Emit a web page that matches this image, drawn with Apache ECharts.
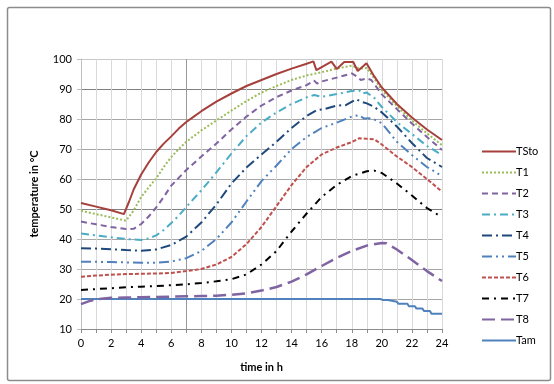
<!DOCTYPE html>
<html>
<head>
<meta charset="utf-8">
<script src="https://cdn.jsdelivr.net/npm/echarts@6/dist/echarts.min.js"></script>
<style>html,body{margin:0;padding:0;background:#fff}#c{width:554px;height:384px}</style>
</head>
<body>
<div id="c"></div>
<script>
var seriesNames = ['TSto','T1','T2','T3','T4','T5','T6','T7','T8','Tam'];
var xTicks = [0,2,4,6,8,10,12,14,16,18,20,22,24];
var yTicks = [10,20,30,40,50,60,70,80,90,100];

var TSto = [[0,52],[1,50.8],[2,49.6],[2.85,48.3],[3.2,52.5],[3.5,56.5],[4,61.5],[4.5,65.5],[5,69],[5.5,71.8],[6,74.2],[6.5,76.8],[7,79],[7.5,80.8],[8,82.6],[9,85.8],[10,88.5],[11,91],[12,93],[13,95],[14,96.8],[15,98.4],[15.45,99.2],[15.65,96.3],[16.65,99.1],[17,96.7],[17.5,99],[18.1,99],[18.4,96],[18.98,98.6],[19.5,94.2],[20,90.5],[21,85],[22,80.5],[23,76.5],[24,73]];
var T1 = [[0,49.4],[1,48.3],[2,47.2],[3,46.1],[3.5,49.5],[4,54],[4.5,57.2],[5,60.2],[5.5,64],[6,67.3],[6.5,70],[7,72.4],[8,76.2],[9,79.5],[10,82.8],[11,86],[12,88.8],[13,91],[14,93],[15,94.5],[16,95.6],[17,96.8],[18,97.8],[18.5,96.8],[19,97],[19.5,93.5],[20,89.6],[21,84.3],[22,79.5],[23,75.2],[24,71.3]];
var T2 = [[0,45.8],[1,44.9],[2,44],[3,43.3],[3.5,43.4],[4,45],[4.5,47.5],[5,50.5],[5.5,54],[6,57.8],[7,63],[8,67.5],[9,71.8],[10,76.5],[11,80.8],[12,84.5],[13,87.3],[14,89.5],[15,91.3],[15.5,92.8],[15.7,91.8],[16,92.5],[17,93.8],[18,95.2],[18.4,94],[18.6,93],[19,93.5],[19.3,93],[20,88.2],[21,83.3],[22,78.5],[23,74],[24,69.7]];
var T3 = [[0,41.8],[1,41.2],[2,40.6],[3,40],[4,39.7],[4.5,40.2],[5,41.2],[5.5,43],[6,45.3],[6.5,47.8],[7,50.7],[8,56.2],[9,62.2],[10,68.5],[11,74.3],[12,78.8],[13,82.2],[14,85],[15,87.2],[15.5,88],[16,87.4],[17,88.3],[18,89.3],[18.5,89.5],[18.7,88.5],[19,88.8],[19.5,87],[20,84],[21,79],[22,75],[23,71],[24,68]];
var T4 = [[0,36.9],[1,36.8],[2,36.6],[3,36.3],[4,36.1],[5,36.5],[6,38],[7,40.8],[8,45.5],[9,51.5],[10,58.5],[11,63.8],[12,68.2],[13,72.4],[14,77],[15,81],[15.7,83],[16.2,83.3],[17,84.5],[17.6,84.6],[18.3,86.6],[18.6,85.8],[19,85.2],[19.5,84],[20,82.2],[21,77.5],[22,72],[23,67],[24,64]];
var T5 = [[0,32.4],[1,32.4],[2,32.3],[3,32.2],[4,32.1],[5,32.1],[6,32.5],[7,33.6],[8,36],[9,40],[10,45.5],[11,52.5],[12,59.3],[13,64.5],[14,70],[15,74],[16,77],[17,78.8],[18,80.8],[18.5,81.3],[18.8,80.2],[19.3,80.3],[20,78.6],[21,72.4],[22,68],[23,64],[24,61]];
var T6 = [[0,27.4],[1,27.8],[2,28.1],[3,28.3],[4,28.4],[5,28.5],[6,28.7],[7,29.3],[8,30],[9,31.5],[10,34],[11,38.3],[12,44],[13,51],[14,58],[15,64],[16,68.2],[17,70.5],[18,72.3],[18.5,73.6],[19.5,73.2],[20,71.5],[21,67.5],[22,64],[23,60],[24,55.8]];
var T7 = [[0,23],[1,23.3],[2,23.6],[3,23.9],[4,24.1],[5,24.3],[6,24.6],[7,24.9],[8,25.3],[9,25.9],[10,26.6],[11,28.2],[12,31.5],[13,36],[14,42.5],[15,48.5],[16,54],[17,58],[18,61],[19,62.6],[19.5,62.8],[20,62],[21,58.5],[22,54.5],[23,50.3],[24,47.3]];
var T8 = [[0,18.3],[0.5,19.2],[1,19.9],[2,20.4],[3,20.5],[4,20.6],[5,20.7],[6,20.8],[7,20.9],[8,21],[9,21.1],[10,21.4],[11,21.9],[12,22.8],[13,24],[14,25.8],[15,28.2],[16,31],[17,33.7],[18,36],[19,37.8],[20,38.7],[20.3,38.6],[21,36.5],[22,33],[23,29.3],[24,26]];
var Tam = [[0,20],[19.9,20],[20.05,19.7],[20.4,19.7],[20.5,19.1],[21,19.1],[21.1,18.4],[21.7,18.4],[21.8,17.6],[22.2,17.6],[22.3,16.8],[22.7,16.8],[22.8,16],[23.2,16],[23.3,15.1],[24,15.1]];

var dataSets = [TSto,T1,T2,T3,T4,T5,T6,T7,T8,Tam];
var styles = [
  {color:'#A5403C', type:'solid', width:2},
  {color:'#9BBB59', type:[2,2], width:2},
  {color:'#8064A2', type:[6,4], width:2},
  {color:'#4BACC6', type:[8,4,2,4], width:2},
  {color:'#1F497D', type:[10,4,2,4], width:2},
  {color:'#4F81BD', type:[10,4,2,4,2,4], width:2},
  {color:'#C0504D', type:[4,2], width:2},
  {color:'#000000', type:[7,5,2,5], width:2},
  {color:'#8064A2', type:[13,6], width:2.5},
  {color:'#4F81BD', type:'solid', width:2}
];

var vColors = [];
for (var i = 0; i <= 24; i++) vColors.push(i === 7 ? '#9a9a9a' : '#d9d9d9');
var hColors = ['#9a9a9a','#a6a6a6','#a6a6a6','#a6a6a6','#808080','#a6a6a6','#a6a6a6','#a6a6a6','#808080','#c8c8c8'];

var series = seriesNames.map(function(n, i){
  return {
    name: n, type: 'line', data: dataSets[i], symbol: 'none', showSymbol: false,
    lineStyle: {color: styles[i].color, type: styles[i].type, width: styles[i].width},
    itemStyle: {color: styles[i].color},
    animation: false, z: 10 - i
  };
});

var chart = echarts.init(document.getElementById('c'), null, {renderer:'canvas'});
chart.setOption({
  animation: false,
  backgroundColor: '#fff',
  textStyle: {fontFamily: 'Lato, "Open Sans", sans-serif'},
  graphic: [{
    type: 'rect', left: 5, top: 5, z: -1,
    shape: {width: 543, height: 373, r: 2},
    style: {fill: 'none', stroke: '#8c8c8c', lineWidth: 1.5}
  }],
  grid: {left: 81, right: 112, top: 59, bottom: 55},
  legend: {
    orient: 'vertical', left: 476, top: 141,
    itemWidth: 34, itemHeight: 14, itemGap: 9.8,
    itemStyle: {opacity: 0},
    data: seriesNames,
    textStyle: {fontSize: 11, color: '#000', padding: [0,0,0,-5], fontFamily: 'Lato, "Open Sans", sans-serif'}
  },
  xAxis: {
    type: 'value', min: 0, max: 24, interval: 1,
    name: 'time in h', nameLocation: 'middle', nameGap: 33,
    nameTextStyle: {fontWeight: 'bold', fontSize: 11, color: '#000'},
    axisLine: {show: true, lineStyle: {color: '#8c8c8c', width: 1}},
    axisTick: {show: true, length: 4, lineStyle: {color: '#8c8c8c'}},
    axisLabel: {
      color: '#000', fontSize: 11, margin: 9,
      formatter: function(v){ return xTicks.indexOf(v) >= 0 ? String(v) : ''; }
    },
    splitLine: {show: true, lineStyle: {color: vColors, width: 1}}
  },
  yAxis: {
    type: 'value', min: 10, max: 100, interval: 10,
    name: 'temperature in °C', nameLocation: 'middle', nameGap: 41,
    nameTextStyle: {fontWeight: 'bold', fontSize: 11, color: '#000'},
    axisLine: {show: true, lineStyle: {color: '#bfbfbf', width: 1}},
    axisTick: {show: true, length: 4, lineStyle: {color: '#bfbfbf'}},
    axisLabel: {
      color: '#000', fontSize: 11, margin: 9,
      formatter: function(v){ return yTicks.indexOf(v) >= 0 ? String(v) : ''; }
    },
    splitLine: {show: true, lineStyle: {color: hColors, width: 1}}
  },
  series: series
});
</script>
</body>
</html>
